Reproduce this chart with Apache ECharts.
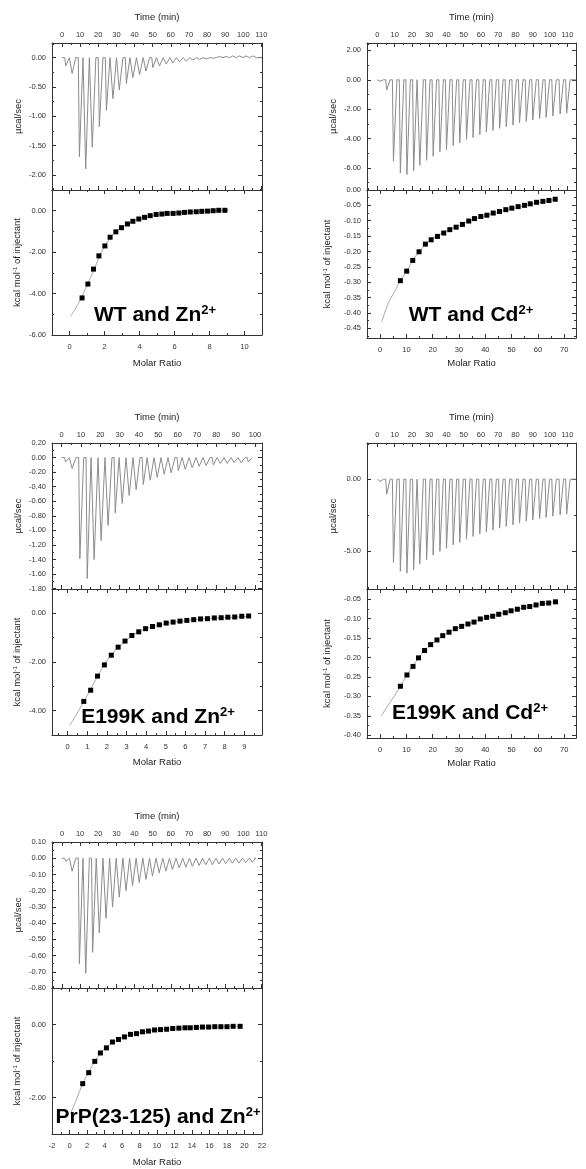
<!DOCTYPE html>
<html>
<head>
<meta charset="utf-8">
<script src="https://cdn.jsdelivr.net/npm/echarts@6.0.0/dist/echarts.min.js"></script>
<style>
  html, body { margin: 0; padding: 0; background: #fff; }
  #chart { width: 586px; height: 1169px; }
</style>
</head>
<body>
<div id="chart"></div>
<script>
// ---- WT and Zn2+ ----
var wtZnInjTime = [1.5, 5.0, 9.0, 12.5, 16.1, 20.0, 23.9, 27.5, 31.0, 34.9, 38.5, 42.2, 45.7, 49.5, 53.2, 56.9, 60.5, 64.2, 67.9, 71.6, 75.2, 78.9, 82.6, 86.2, 89.9, 93.6, 97.2, 100.9, 104.6];
var wtZnPeak = [-0.14, -0.27, -1.69, -1.90, -1.53, -1.18, -0.90, -0.70, -0.55, -0.44, -0.34, -0.29, -0.23, -0.17, -0.14, -0.11, -0.09, -0.07, -0.06, -0.04, -0.03, -0.02, -0.01, 0.02, 0.02, 0.03, 0.03, 0.03, 0.03];
var wtZnRatio = [0.72, 1.05, 1.37, 1.68, 2.02, 2.32, 2.65, 2.97, 3.31, 3.62, 3.96, 4.29, 4.61, 4.95, 5.28, 5.58, 5.92, 6.25, 6.57, 6.90, 7.24, 7.56, 7.89, 8.21, 8.53, 8.88];
var wtZnHeat = [-4.21, -3.54, -2.82, -2.18, -1.70, -1.28, -1.02, -0.82, -0.64, -0.51, -0.40, -0.32, -0.24, -0.18, -0.16, -0.13, -0.13, -0.11, -0.08, -0.06, -0.05, -0.03, -0.02, 0.00, 0.02, 0.02];
var wtZnFitRatio = [0.06, 0.35, 0.7, 1.0, 1.4, 1.8, 2.2, 2.6, 3.0, 3.5, 4.0, 5.0, 6.0, 7.0, 8.0, 9.1];
var wtZnFitHeat = [-5.10, -4.72, -4.15, -3.60, -2.85, -2.05, -1.48, -1.05, -0.80, -0.57, -0.40, -0.20, -0.10, -0.05, -0.01, 0.02];

// ---- WT and Cd2+ ----
var wtCdInjTime = [1.0, 4.8, 8.7, 12.7, 16.5, 20.4, 24.0, 27.9, 31.7, 35.6, 39.4, 43.3, 47.1, 51.0, 54.8, 58.7, 62.5, 66.3, 70.2, 74.0, 77.9, 81.7, 85.6, 89.4, 93.3, 97.1, 101.0, 105.2, 109.0];
var wtCdPeak = [-0.10, -0.70, -5.55, -6.35, -6.44, -6.20, -5.82, -5.48, -5.20, -4.90, -4.75, -4.47, -4.29, -4.06, -3.93, -3.74, -3.56, -3.45, -3.31, -3.20, -3.08, -2.92, -2.83, -2.74, -2.65, -2.56, -2.47, -2.33, -2.28];
var wtCdRatio = [7.7, 10.1, 12.4, 14.8, 17.2, 19.4, 21.8, 24.2, 26.5, 28.9, 31.3, 33.7, 35.9, 38.3, 40.6, 43.0, 45.4, 47.8, 50.1, 52.5, 54.9, 57.1, 59.5, 61.9, 64.2, 66.6];
var wtCdHeat = [-0.295, -0.264, -0.229, -0.201, -0.176, -0.162, -0.151, -0.140, -0.129, -0.121, -0.112, -0.101, -0.093, -0.086, -0.082, -0.075, -0.070, -0.064, -0.059, -0.054, -0.050, -0.045, -0.040, -0.037, -0.034, -0.030];
var wtCdFitRatio = [0.6, 3.0, 5.5, 7.7, 10.1, 12.4, 14.8, 17.2, 20, 25, 30, 35, 40, 45, 50, 55, 60, 66.6];
var wtCdFitHeat = [-0.430, -0.370, -0.330, -0.295, -0.264, -0.229, -0.201, -0.178, -0.158, -0.134, -0.116, -0.097, -0.084, -0.072, -0.061, -0.051, -0.042, -0.030];

// ---- E199K and Zn2+ ----
var e199kZnInjTime = [1.4, 4.8, 8.8, 12.6, 16.2, 19.8, 23.4, 27.1, 30.7, 34.3, 37.9, 41.6, 45.2, 48.8, 52.4, 56.0, 59.7, 63.3, 66.9, 70.5, 74.1, 77.8, 81.4, 85.0, 88.6, 92.2, 95.9];
var e199kZnPeak = [-0.06, -0.15, -1.39, -1.66, -1.40, -1.14, -0.93, -0.76, -0.63, -0.52, -0.44, -0.37, -0.31, -0.27, -0.23, -0.21, -0.18, -0.16, -0.14, -0.12, -0.11, -0.10, -0.08, -0.08, -0.07, -0.07, -0.06];
var e199kZnRatio = [0.82, 1.17, 1.52, 1.87, 2.22, 2.57, 2.92, 3.27, 3.62, 3.97, 4.32, 4.67, 5.02, 5.37, 5.72, 6.07, 6.42, 6.77, 7.12, 7.47, 7.82, 8.16, 8.51, 8.87, 9.22];
var e199kZnHeat = [-3.62, -3.16, -2.58, -2.12, -1.72, -1.39, -1.14, -0.91, -0.76, -0.63, -0.54, -0.47, -0.40, -0.36, -0.32, -0.29, -0.26, -0.23, -0.22, -0.19, -0.18, -0.16, -0.15, -0.12, -0.11];
var e199kZnFitRatio = [0.10, 0.45, 0.82, 1.17, 1.52, 1.87, 2.22, 2.6, 3.0, 3.5, 4.0, 5.0, 6.0, 7.0, 8.0, 9.22];
var e199kZnFitHeat = [-4.62, -4.15, -3.62, -3.12, -2.58, -2.10, -1.72, -1.38, -1.10, -0.80, -0.63, -0.42, -0.30, -0.23, -0.18, -0.12];

// ---- E199K and Cd2+ ----
var e199kCdInjTime = [1.0, 4.8, 8.7, 12.7, 16.5, 20.4, 24.0, 27.9, 31.7, 35.6, 39.4, 43.3, 47.1, 51.0, 54.8, 58.7, 62.5, 66.3, 70.2, 74.0, 77.9, 81.7, 85.6, 89.4, 93.3, 97.1, 101.0, 105.2, 109.0];
var e199kCdPeak = [-0.16, -1.04, -5.76, -6.38, -6.50, -6.27, -5.85, -5.58, -5.25, -5.00, -4.79, -4.54, -4.38, -4.15, -3.96, -3.80, -3.66, -3.53, -3.39, -3.27, -3.16, -3.04, -2.90, -2.81, -2.74, -2.65, -2.56, -2.47, -2.42];
var e199kCdRatio = [7.7, 10.2, 12.5, 14.6, 16.9, 19.2, 21.6, 23.8, 26.2, 28.6, 31.0, 33.4, 35.7, 38.1, 40.5, 42.8, 45.1, 47.6, 49.8, 52.2, 54.6, 56.9, 59.3, 61.7, 64.1, 66.7];
var e199kCdHeat = [-0.274, -0.245, -0.223, -0.201, -0.182, -0.167, -0.155, -0.144, -0.135, -0.126, -0.120, -0.114, -0.109, -0.101, -0.097, -0.094, -0.089, -0.085, -0.080, -0.076, -0.071, -0.069, -0.065, -0.061, -0.060, -0.057];
var e199kCdFitRatio = [0.5, 3.0, 5.5, 7.7, 10.2, 12.5, 15, 18, 22, 26, 30, 35, 40, 45, 50, 55, 60, 66.7];
var e199kCdFitHeat = [-0.350, -0.323, -0.298, -0.274, -0.245, -0.222, -0.198, -0.175, -0.153, -0.136, -0.122, -0.110, -0.099, -0.089, -0.080, -0.072, -0.065, -0.057];

// ---- PrP(23-125) and Zn2+ ----
var prpInjTime = [1.5, 5.0, 9.0, 12.5, 16.3, 20.0, 23.7, 27.3, 31.0, 34.7, 38.3, 42.0, 45.7, 49.3, 53.0, 56.7, 60.3, 64.0, 67.7, 71.3, 75.0, 78.7, 82.3, 86.0, 89.7, 93.3, 97.0, 100.7, 104.3];
var prpPeak = [-0.02, -0.08, -0.65, -0.71, -0.58, -0.46, -0.37, -0.30, -0.24, -0.20, -0.17, -0.15, -0.13, -0.11, -0.09, -0.08, -0.07, -0.06, -0.055, -0.05, -0.045, -0.04, -0.04, -0.035, -0.033, -0.03, -0.03, -0.027, -0.025];
var prpRatio = [1.51, 2.20, 2.89, 3.53, 4.22, 4.91, 5.60, 6.28, 6.97, 7.66, 8.34, 9.03, 9.72, 10.4, 11.1, 11.8, 12.5, 13.2, 13.8, 14.5, 15.2, 15.9, 16.6, 17.3, 18.0, 18.7, 19.5];
var prpHeat = [-1.62, -1.32, -1.01, -0.78, -0.64, -0.48, -0.41, -0.34, -0.27, -0.25, -0.20, -0.18, -0.15, -0.14, -0.13, -0.11, -0.10, -0.09, -0.09, -0.08, -0.07, -0.07, -0.06, -0.06, -0.06, -0.05, -0.05];
var prpFitRatio = [0.15, 0.8, 1.51, 2.2, 2.9, 3.5, 4.2, 5.0, 6.0, 7.0, 8.5, 10, 12, 15, 19.5];
var prpFitHeat = [-2.42, -2.05, -1.62, -1.30, -1.01, -0.80, -0.63, -0.49, -0.37, -0.28, -0.20, -0.15, -0.11, -0.08, -0.05];

// tick labels
var time110Ticks = [0, 10, 20, 30, 40, 50, 60, 70, 80, 90, 100, 110];
var time100Ticks = [0, 10, 20, 30, 40, 50, 60, 70, 80, 90, 100];
var wtZnRawTicks = [-2.0, -1.5, -1.0, -0.5, 0.0];
var wtZnHeatTicks = [-6, -4, -2, 0];
var wtZnRatioTicks = [0, 2, 4, 6, 8, 10];
var wtCdRawTicks = [-6, -4, -2, 0, 2];
var wtCdHeatTicks = [-0.45, -0.40, -0.35, -0.30, -0.25, -0.20, -0.15, -0.10, -0.05, 0.00];
var cdRatioTicks = [0, 10, 20, 30, 40, 50, 60, 70];
var e199kZnRawTicks = [-1.8, -1.6, -1.4, -1.2, -1.0, -0.8, -0.6, -0.4, -0.2, 0.0, 0.2];
var e199kZnHeatTicks = [-4, -2, 0];
var e199kZnRatioTicks = [0, 1, 2, 3, 4, 5, 6, 7, 8, 9];
var e199kCdRawTicks = [-5, 0];
var e199kCdHeatTicks = [-0.40, -0.35, -0.30, -0.25, -0.20, -0.15, -0.10, -0.05];
var prpRawTicks = [-0.8, -0.7, -0.6, -0.5, -0.4, -0.3, -0.2, -0.1, 0.0, 0.1];
var prpHeatTicks = [-2, 0];
var prpRatioTicks = [-2, 0, 2, 4, 6, 8, 10, 12, 14, 16, 18, 20, 22];

var FONT = 'Liberation Sans, Arial, sans-serif';

function minorTicks(min, max, step) {
  var out = [];
  var v = Math.ceil(min / step - 1e-9) * step;
  for (; v <= max + 1e-9; v += step) out.push(Math.round(v * 1e6) / 1e6);
  return out;
}

function pairs(xs, ys) {
  return xs.map(function (x, i) { return [x, ys[i]]; });
}

// raw thermogram: flat baseline with a sharp spike at every injection
function trace(times, peaks, end) {
  var pts = [[0, 0]];
  times.forEach(function (t, i) {
    pts.push([t, 0], [t + 0.6, peaks[i]], [t + 2.6, 0]);
  });
  pts.push([end, 0]);
  return pts;
}

var option = {
  animation: false,
  backgroundColor: '#fff',
  grid: [], xAxis: [], yAxis: [], series: [], graphic: []
};

function fmt2(v) { return (Math.abs(v) < 1e-9 ? 0 : v).toFixed(2); }
function fmt0(v) { return String(v); }

// one side of a box: major ticks (+labels) and minor ticks
function side(kind, g, c, pos, labels) {
  var arr = option[kind];
  var ax = {
    gridIndex: g, type: 'value', min: c.min, max: c.max, position: pos,
    axisLine: { show: true, onZero: false, lineStyle: { color: '#333', width: 1 } },
    axisTick: { show: true, inside: true, length: 4, customValues: c.ticks, lineStyle: { color: '#333' } },
    axisLabel: { show: labels, customValues: c.ticks, formatter: c.fmt, fontSize: 7.5, color: '#333', fontFamily: FONT, margin: c.margin || 6 },
    splitLine: { show: false }
  };
  if (labels && c.name) {
    ax.name = c.name;
    ax.nameLocation = 'middle';
    ax.nameGap = c.nameGap;
    ax.nameTextStyle = {
      fontSize: 9.5, color: '#222', fontFamily: FONT,
      rich: {
        n: { fontSize: 9.5, color: '#222', fontFamily: FONT },
        s: { fontSize: 6, color: '#222', fontFamily: FONT, verticalAlign: 'top', lineHeight: 10 }
      }
    };
  }
  arr.push(ax);
  var idx = arr.length - 1;
  arr.push({
    gridIndex: g, type: 'value', min: c.min, max: c.max, position: pos,
    axisLine: { show: false, onZero: false },
    axisTick: { show: true, inside: true, length: 2, customValues: minorTicks(c.min, c.max, c.minor), lineStyle: { color: '#333' } },
    axisLabel: { show: false },
    splitLine: { show: false }
  });
  return idx;
}

function box(left, top, width, height, xc, yc, xOnTop) {
  option.grid.push({ left: left, top: top, width: width, height: height });
  var g = option.grid.length - 1;
  var xi = side('xAxis', g, xc, xOnTop ? 'top' : 'bottom', true);
  side('xAxis', g, xc, xOnTop ? 'bottom' : 'top', false);
  var yi = side('yAxis', g, yc, 'left', true);
  side('yAxis', g, yc, 'right', false);
  return { x: xi, y: yi };
}

function panel(p) {
  var top = box(p.left, p.y0, p.width, p.y1 - p.y0, p.time, p.raw, true);
  var bot = box(p.left, p.y1, p.width, p.y2 - p.y1, p.ratio, p.heat, false);
  option.series.push({
    type: 'line', xAxisIndex: top.x, yAxisIndex: top.y, data: p.trace,
    showSymbol: false, lineStyle: { color: '#8c8c8c', width: 1 }, silent: true
  });
  option.series.push({
    type: 'line', xAxisIndex: bot.x, yAxisIndex: bot.y, data: p.fit, smooth: 0.4, z: 2,
    showSymbol: false, lineStyle: { color: '#a8a8a8', width: 1 }, silent: true
  });
  option.series.push({
    type: 'scatter', xAxisIndex: bot.x, yAxisIndex: bot.y, data: p.points, z: 5,
    symbol: 'rect', symbolSize: 5, itemStyle: { color: '#000', opacity: 1, borderWidth: 0 }, silent: true
  });
  option.graphic.push({
    type: 'text', x: p.tx, y: p.ty, z: 100,
    style: {
      text: '{m|' + p.label + '}{s|2+}', align: 'center', verticalAlign: 'middle',
      rich: {
        m: { fontSize: 21, fontWeight: 'bold', fontFamily: FONT, fill: '#000', lineHeight: 22 },
        s: { fontSize: 13, fontWeight: 'bold', fontFamily: FONT, fill: '#000', verticalAlign: 'top', lineHeight: 22 }
      }
    }
  });
}

var yName1 = 'µcal/sec';
var yName2 = '{n|kcal mol}{s|-1}{n| of injectant}';

panel({
  left: 52, width: 210, y0: 43, y1: 190, y2: 335,
  time: { min: -5.5, max: 110.3, ticks: time110Ticks, minor: 5, fmt: fmt0, name: 'Time (min)', nameGap: 21, margin: 4 },
  raw: { min: -2.26, max: 0.25, ticks: wtZnRawTicks, minor: 0.25, fmt: fmt2, name: yName1, nameGap: 29 },
  ratio: { min: -1, max: 11, ticks: wtZnRatioTicks, minor: 1, fmt: fmt0, name: 'Molar Ratio', nameGap: 23, margin: 8 },
  heat: { min: -6, max: 1, ticks: wtZnHeatTicks, minor: 1, fmt: fmt2, name: yName2, nameGap: 30 },
  trace: trace(wtZnInjTime, wtZnPeak, 110),
  fit: pairs(wtZnFitRatio, wtZnFitHeat),
  points: pairs(wtZnRatio, wtZnHeat),
  label: 'WT and Zn', tx: 155, ty: 315
});

panel({
  left: 367, width: 209, y0: 43, y1: 190, y2: 338,
  time: { min: -6, max: 115, ticks: time110Ticks, minor: 5, fmt: fmt0, name: 'Time (min)', nameGap: 21, margin: 4 },
  raw: { min: -7.5, max: 2.5, ticks: wtCdRawTicks, minor: 1, fmt: fmt2, name: yName1, nameGap: 29 },
  ratio: { min: -5, max: 74.5, ticks: cdRatioTicks, minor: 5, fmt: fmt0, name: 'Molar Ratio', nameGap: 20, margin: 8 },
  heat: { min: -0.4815, max: 0, ticks: wtCdHeatTicks, minor: 0.025, fmt: fmt2, name: yName2, nameGap: 35 },
  trace: trace(wtCdInjTime, wtCdPeak, 115),
  fit: pairs(wtCdFitRatio, wtCdFitHeat),
  points: pairs(wtCdRatio, wtCdHeat),
  label: 'WT and Cd', tx: 471, ty: 315
});

panel({
  left: 52, width: 210, y0: 443, y1: 589, y2: 735,
  time: { min: -5, max: 103.6, ticks: time100Ticks, minor: 5, fmt: fmt0, name: 'Time (min)', nameGap: 21, margin: 4 },
  raw: { min: -1.805, max: 0.2, ticks: e199kZnRawTicks, minor: 0.1, fmt: fmt2, name: yName1, nameGap: 29 },
  ratio: { min: -0.8, max: 9.9, ticks: e199kZnRatioTicks, minor: 0.5, fmt: fmt0, name: 'Molar Ratio', nameGap: 22, margin: 8 },
  heat: { min: -5, max: 1, ticks: e199kZnHeatTicks, minor: 1, fmt: fmt2, name: yName2, nameGap: 30 },
  trace: trace(e199kZnInjTime, e199kZnPeak, 98.6),
  fit: pairs(e199kZnFitRatio, e199kZnFitHeat),
  points: pairs(e199kZnRatio, e199kZnHeat),
  label: 'E199K and Zn', tx: 158, ty: 717
});

panel({
  left: 367, width: 209, y0: 443, y1: 589, y2: 738,
  time: { min: -6, max: 115, ticks: time110Ticks, minor: 5, fmt: fmt0, name: 'Time (min)', nameGap: 21, margin: 4 },
  raw: { min: -7.6, max: 2.5, ticks: e199kCdRawTicks, minor: 2.5, fmt: fmt2, name: yName1, nameGap: 29 },
  ratio: { min: -5, max: 74.5, ticks: cdRatioTicks, minor: 5, fmt: fmt0, name: 'Molar Ratio', nameGap: 20, margin: 8 },
  heat: { min: -0.407, max: -0.024, ticks: e199kCdHeatTicks, minor: 0.025, fmt: fmt2, name: yName2, nameGap: 35 },
  trace: trace(e199kCdInjTime, e199kCdPeak, 115),
  fit: pairs(e199kCdFitRatio, e199kCdFitHeat),
  points: pairs(e199kCdRatio, e199kCdHeat),
  label: 'E199K and Cd', tx: 470, ty: 713
});

panel({
  left: 52, width: 210, y0: 842, y1: 988, y2: 1134,
  time: { min: -5.5, max: 110.3, ticks: time110Ticks, minor: 5, fmt: fmt0, name: 'Time (min)', nameGap: 21, margin: 4 },
  raw: { min: -0.8, max: 0.1, ticks: prpRawTicks, minor: 0.05, fmt: fmt2, name: yName1, nameGap: 29 },
  ratio: { min: -2, max: 22, ticks: prpRatioTicks, minor: 1, fmt: fmt0, name: 'Molar Ratio', nameGap: 23, margin: 8 },
  heat: { min: -3, max: 1, ticks: prpHeatTicks, minor: 1, fmt: fmt2, name: yName2, nameGap: 30 },
  trace: trace(prpInjTime, prpPeak, 106),
  fit: pairs(prpFitRatio, prpFitHeat),
  points: pairs(prpRatio, prpHeat),
  label: 'PrP(23-125) and Zn', tx: 158, ty: 1117
});

var myChart = echarts.init(document.getElementById('chart'), null, { renderer: 'canvas' });
myChart.setOption(option);
window.onresize = myChart.resize;
</script>
</body>
</html>
